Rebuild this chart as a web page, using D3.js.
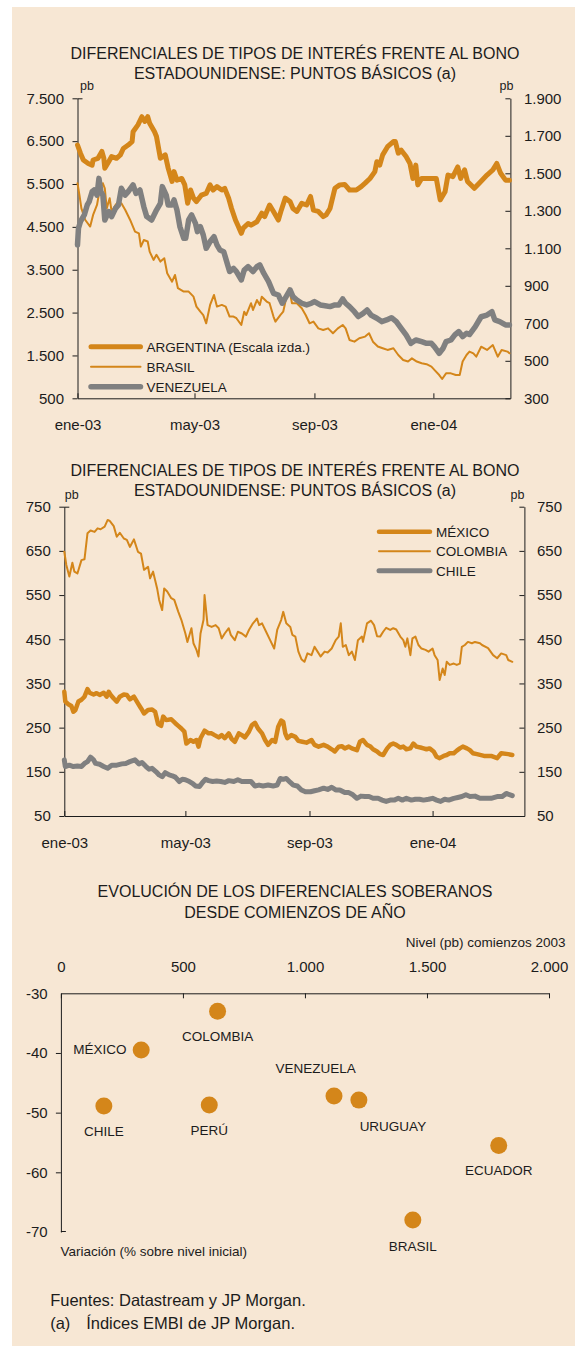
<!DOCTYPE html>
<html>
<head>
<meta charset="utf-8">
<script src="https://cdn.jsdelivr.net/npm/d3@7"></script>
<style>
  body { margin: 0; background: #fff; }
  svg { display: block; }
</style>
</head>
<body>
<svg id="chart" width="575" height="1353"></svg>
<script>
(function() {

  // ---- data: [days since 1-ene-2003, spread in pb] ----
  const xTickDates = ['2003-01-01', '2003-05-01', '2003-09-01', '2004-01-01']
  const xTickLabels = ['ene-03', 'may-03', 'sep-03', 'ene-04']

  const ticksLeft1 = [500, 1500, 2500, 3500, 4500, 5500, 6500, 7500]
  const ticksRight1 = [300, 500, 700, 900, 1100, 1300, 1500, 1700, 1900]
  const ticks2 = [50, 150, 250, 350, 450, 550, 650, 750]

  const argentina = [[0,6410],[3,6220],[6,6060],[11,5980],[15,5940],[16,6060],[21,6100],[25,6260],[27,6100],[28,5870],[32,6020],[35,6140],[40,6100],[44,6180],[47,6330],[52,6410],[56,6490],[57,6720],[62,6880],[66,7070],[69,6960],[72,7070],[74,6920],[79,6720],[81,6610],[85,6100],[90,6180],[93,5870],[97,5560],[99,5790],[102,5590],[107,5630],[110,5480],[113,5050],[116,5360],[119,5170],[122,5090],[127,5240],[132,5280],[136,5480],[139,5360],[143,5440],[148,5360],[151,5400],[155,5170],[158,4930],[162,4660],[165,4510],[168,4350],[170,4470],[175,4580],[178,4540],[184,4620],[189,4820],[192,4740],[197,5010],[201,4860],[206,4660],[209,4890],[213,5170],[218,5090],[221,4930],[225,4860],[230,5050],[235,5010],[239,5210],[242,4890],[247,4860],[252,4740],[255,4780],[259,4930],[264,5400],[269,5480],[274,5490],[279,5360],[286,5360],[291,5440],[295,5520],[300,5630],[305,5790],[307,6020],[310,5940],[313,6180],[318,6370],[324,6490],[326,6490],[329,6220],[332,6290],[337,6140],[341,5980],[344,5630],[347,5940],[349,5480],[353,5630],[358,5630],[363,5630],[368,5630],[372,5130],[377,5320],[380,5710],[385,5670],[390,5900],[393,5630],[397,5830],[400,5560],[407,5400],[412,5520],[420,5710],[426,5830],[430,5980],[434,5750],[439,5590],[443,5590]]

  const brasil = [[0,1447],[2,1384],[4,1313],[8,1251],[13,1216],[16,1278],[20,1331],[23,1420],[26,1447],[28,1420],[30,1313],[33,1367],[35,1296],[39,1331],[42,1349],[45,1340],[49,1304],[54,1251],[59,1189],[63,1180],[65,1109],[68,1144],[72,1136],[74,1082],[78,1038],[81,1065],[85,1029],[89,1047],[92,967],[97,922],[100,958],[103,887],[109,869],[114,869],[119,842],[122,789],[126,762],[129,744],[132,700],[136,798],[140,851],[143,789],[148,798],[152,789],[156,736],[160,736],[163,727],[168,691],[171,762],[173,744],[178,807],[180,771],[184,824],[187,798],[189,842],[194,816],[197,807],[201,736],[203,709],[208,744],[211,762],[214,833],[217,887],[220,807],[225,807],[230,780],[234,744],[238,700],[242,709],[247,673],[252,664],[257,673],[262,647],[267,673],[272,691],[275,673],[279,611],[284,602],[289,620],[295,629],[299,647],[303,602],[308,576],[313,567],[318,558],[324,567],[329,531],[334,504],[339,496],[343,513],[348,496],[353,487],[358,482],[363,469],[367,446],[371,424],[374,403],[378,433],[383,433],[388,424],[392,424],[395,496],[399,531],[402,549],[406,540],[409,522],[414,575],[420,558],[426,584],[431,522],[435,558],[441,549],[443,540]]

  const venezuela = [[0,1118],[1,1207],[3,1242],[7,1278],[10,1331],[12,1349],[15,1402],[17,1411],[20,1384],[22,1473],[24,1402],[26,1384],[28,1251],[32,1296],[35,1269],[39,1313],[42,1331],[45,1420],[49,1384],[52,1402],[57,1438],[60,1393],[64,1411],[68,1322],[71,1269],[76,1251],[81,1304],[85,1340],[87,1429],[91,1384],[93,1331],[97,1331],[99,1358],[102,1304],[105,1216],[109,1153],[111,1153],[114,1251],[117,1278],[121,1233],[123,1189],[126,1216],[129,1171],[132,1100],[136,1136],[140,1162],[143,1118],[146,1091],[150,1082],[153,1029],[156,976],[160,993],[163,976],[168,931],[171,984],[175,1002],[180,976],[184,1002],[187,1011],[191,967],[196,922],[201,860],[206,851],[210,807],[214,842],[218,878],[221,842],[225,824],[230,807],[235,798],[240,807],[243,816],[249,798],[254,794],[259,789],[264,798],[268,798],[272,830],[275,807],[279,789],[284,762],[288,736],[293,753],[297,771],[301,744],[307,727],[312,709],[317,718],[322,730],[327,709],[332,673],[337,638],[342,593],[347,611],[353,602],[358,593],[363,593],[366,576],[371,540],[375,567],[378,602],[383,611],[387,638],[391,656],[395,629],[399,647],[402,640],[408,682],[414,735],[420,744],[425,762],[428,718],[433,709],[439,691],[443,691]]

  const mexico = [[0,331],[1,309],[4,303],[7,299],[9,286],[11,290],[14,309],[17,313],[20,320],[23,337],[25,329],[29,325],[32,328],[35,324],[39,329],[42,320],[44,331],[46,324],[49,316],[52,309],[55,320],[59,325],[62,324],[65,314],[69,320],[73,305],[76,294],[79,282],[83,290],[87,291],[90,286],[93,258],[96,254],[98,275],[101,267],[106,269],[110,260],[113,254],[116,248],[119,241],[121,214],[125,222],[128,218],[131,222],[133,207],[135,226],[139,243],[143,237],[146,237],[149,233],[153,228],[156,233],[159,226],[163,237],[166,224],[169,218],[173,237],[176,233],[179,228],[183,241],[186,256],[189,261],[192,248],[196,237],[199,222],[202,211],[206,222],[209,218],[212,252],[215,266],[217,263],[219,237],[221,226],[225,233],[229,229],[232,220],[236,218],[240,216],[245,222],[248,211],[252,207],[257,211],[261,207],[265,201],[268,196],[272,207],[275,208],[278,203],[282,207],[285,203],[290,199],[293,218],[296,222],[300,211],[303,208],[306,201],[310,196],[313,190],[316,188],[320,203],[323,211],[326,214],[329,211],[333,205],[336,207],[339,201],[343,203],[346,214],[349,207],[353,205],[356,203],[359,201],[362,203],[366,196],[369,184],[372,181],[376,186],[379,188],[382,192],[386,192],[389,198],[392,203],[395,207],[399,203],[402,199],[405,192],[409,190],[416,186],[423,186],[429,181],[433,192],[440,190],[444,188]]

  const colombia = [[0,648],[2,618],[5,592],[8,623],[10,603],[13,599],[17,629],[20,631],[23,690],[26,696],[30,693],[33,701],[36,699],[40,705],[43,720],[45,718],[49,706],[52,682],[55,691],[59,678],[62,675],[65,659],[69,676],[73,648],[76,644],[79,607],[83,614],[85,588],[88,603],[92,565],[94,539],[97,516],[99,565],[102,558],[106,543],[109,539],[113,512],[116,494],[120,463],[122,444],[126,475],[128,441],[131,426],[133,411],[135,463],[138,494],[139,550],[142,482],[146,478],[150,482],[153,475],[156,452],[159,463],[163,475],[165,460],[169,448],[172,467],[176,463],[180,456],[183,471],[187,486],[191,497],[193,482],[196,486],[200,467],[204,448],[208,429],[211,471],[215,494],[217,512],[220,486],[224,478],[226,460],[229,456],[232,422],[235,405],[238,399],[241,418],[245,414],[248,433],[251,422],[254,411],[258,422],[261,420],[265,429],[269,448],[272,456],[274,486],[276,433],[279,437],[282,414],[285,422],[288,403],[291,448],[295,456],[296,444],[300,486],[304,492],[307,482],[310,457],[313,456],[316,467],[319,476],[323,471],[326,475],[329,472],[333,456],[336,448],[338,433],[340,452],[343,414],[345,452],[348,456],[351,437],[354,429],[358,426],[361,422],[365,429],[367,414],[370,403],[372,358],[375,384],[377,369],[379,399],[382,392],[386,395],[389,392],[392,395],[394,433],[397,437],[400,444],[404,441],[407,444],[412,441],[414,437],[420,430],[425,414],[429,407],[433,418],[438,414],[440,403],[444,399]]

  const chile = [[0,177],[1,162],[5,165],[9,162],[13,163],[17,162],[20,169],[23,173],[26,183],[29,177],[31,169],[35,167],[39,162],[43,158],[47,165],[52,165],[57,168],[61,169],[65,173],[70,177],[74,168],[77,171],[81,162],[84,156],[87,158],[91,150],[94,143],[97,139],[100,148],[104,143],[107,141],[110,138],[114,128],[117,133],[120,132],[124,128],[127,124],[130,118],[134,117],[137,126],[140,133],[143,130],[147,128],[151,129],[155,128],[159,126],[163,130],[168,128],[172,132],[176,128],[181,128],[185,128],[189,118],[193,120],[197,118],[202,120],[207,118],[211,120],[214,135],[217,133],[220,135],[224,126],[227,120],[231,118],[235,109],[239,105],[244,105],[248,107],[252,109],[257,113],[261,110],[265,115],[269,109],[273,109],[278,103],[282,103],[286,98],[290,90],[294,95],[298,94],[302,94],[306,90],[311,90],[315,86],[319,83],[323,86],[327,86],[331,90],[335,86],[339,90],[344,86],[348,88],[352,88],[356,86],[361,88],[365,90],[369,86],[373,83],[377,88],[381,86],[386,90],[390,92],[394,94],[398,98],[402,94],[407,95],[412,90],[416,90],[423,90],[429,94],[434,94],[438,101],[444,96]]

  // scatter: nivel a comienzos de 2003 (pb) y variacion (%)
  const paises = ['CHILE', 'MÉXICO', 'PERÚ', 'COLOMBIA', 'VENEZUELA', 'URUGUAY', 'BRASIL', 'ECUADOR']
  const nivel2003 = [176, 329, 608, 642, 1119, 1221, 1442, 1794]
  const variacion = [-48.9, -39.5, -48.7, -33, -47.2, -47.9, -68, -55.5]
  const nivelTicks = [0, 500, 1000, 1500, 2000]
  const variacionTicks = [-30, -40, -50, -60, -70]

  // ---- styles ----
  const FONT = '"Liberation Sans", Arial, Helvetica, sans-serif'
  const ORANGE = '#d4861a'
  const GREY = '#808080'
  const INK = '#1c1c1c'

  const es = d3.formatLocale({decimal: ',', thousands: '.', grouping: [3], currency: ['', ' €'], minus: '-'})
  const fmt = es.format(',')
  const startDate = new Date(2003, 0, 1)
  const toDate = d => d3.timeDay.offset(startDate, d)
  const parse = d3.timeParse('%Y-%m-%d')

  const svg = d3.select('#chart').attr('font-family', FONT)

  svg.append('rect')
    .attr('x', 12).attr('y', 7)
    .attr('width', 563).attr('height', 1339)
    .attr('fill', '#f7e7d4')

  function addText(x, y, str, size, anchor) {
    return svg.append('text')
      .attr('x', x).attr('y', y)
      .attr('font-size', size)
      .attr('text-anchor', anchor || 'start')
      .attr('fill', INK)
      .text(str)
  }

  function styleAxis(sel) {
    sel.attr('font-family', FONT).attr('font-size', 15)
    sel.selectAll('text').attr('fill', INK)
    sel.selectAll('line, path').attr('stroke', INK)
  }

  function drawTimeChart(c) {
    const x = d3.scaleTime().domain([startDate, c.endDate]).range([c.x0, c.x1])
    const yL = d3.scaleLinear().domain(c.leftDomain).range([c.y1, c.y0])
    const yR = d3.scaleLinear().domain(c.rightDomain).range([c.y1, c.y0])

    c.title.forEach((t, i) => addText(295, c.titleY + i * 20, t, 16, 'middle'))
    addText(c.pbLeft, c.y0 - 8, 'pb', 12.5, 'middle')
    addText(c.pbRight, c.y0 - 8, 'pb', 12.5, 'middle')

    svg.append('g')
      .attr('transform', `translate(${c.x0},0)`)
      .call(d3.axisLeft(yL).tickValues(c.leftTicks).tickFormat(fmt)
        .tickSize(5).tickSizeOuter(0).tickPadding(8.5))
      .call(styleAxis)

    svg.append('g')
      .attr('transform', `translate(${c.x1},0)`)
      .call(d3.axisRight(yR).tickValues(c.rightTicks).tickFormat(fmt)
        .tickSizeInner(-5).tickSizeOuter(0).tickPadding(c.rightPad))
      .call(styleAxis)

    svg.append('g')
      .attr('transform', `translate(0,${c.y1})`)
      .call(d3.axisBottom(x).tickValues(xTickDates.map(parse))
        .tickFormat((d, i) => xTickLabels[i])
        .tickSizeInner(-5).tickSizeOuter(0).tickPadding(21.5))
      .call(styleAxis)

    // small stroke at the top of the left axis
    svg.append('line')
      .attr('x1', c.x0).attr('x2', c.x0 + 5)
      .attr('y1', c.y0 + 0.5).attr('y2', c.y0 + 0.5)
      .attr('stroke', INK)

    c.series.forEach(s => {
      const y = s.axis === 'right' ? yR : yL
      const line = d3.line()
        .x(d => x(toDate(d[0])))
        .y(d => y(d[1]))
      svg.append('path')
        .datum(s.values)
        .attr('d', line)
        .attr('fill', 'none')
        .attr('stroke', s.color)
        .attr('stroke-width', s.width)
        .attr('stroke-linejoin', 'round')
        .attr('stroke-linecap', 'round')
    })

    c.series.forEach((s, i) => {
      const ly = c.legendY + i * c.legendGap
      svg.append('line')
        .attr('x1', c.legendX).attr('x2', c.legendX + c.legendLen)
        .attr('y1', ly).attr('y2', ly)
        .attr('stroke', s.color)
        .attr('stroke-width', s.width)
        .attr('stroke-linecap', 'round')
      addText(c.legendX + c.legendLen + 6, ly, s.name, 13.5).attr('dy', '0.36em')
    })
  }

  drawTimeChart({
    title: ['DIFERENCIALES DE TIPOS DE INTERÉS FRENTE AL BONO', 'ESTADOUNIDENSE: PUNTOS BÁSICOS (a)'],
    titleY: 58.5,
    x0: 77.5, x1: 510.4, y0: 98.3, y1: 398.3,
    endDate: toDate(444),
    leftDomain: [500, 7500], leftTicks: ticksLeft1,
    rightDomain: [300, 1900], rightTicks: ticksRight1,
    rightPad: 13.5,
    pbLeft: 87, pbRight: 506.5,
    legendX: 91, legendLen: 49.5, legendY: 346.7, legendGap: 20,
    series: [
      {name: 'ARGENTINA (Escala izda.)', values: argentina, axis: 'left', color: ORANGE, width: 5},
      {name: 'BRASIL', values: brasil, axis: 'right', color: ORANGE, width: 2},
      {name: 'VENEZUELA', values: venezuela, axis: 'right', color: GREY, width: 5.5}
    ]
  })

  drawTimeChart({
    title: ['DIFERENCIALES DE TIPOS DE INTERÉS FRENTE AL BONO', 'ESTADOUNIDENSE: PUNTOS BÁSICOS (a)'],
    titleY: 476.4,
    x0: 64.3, x1: 524.4, y0: 506.7, y1: 816,
    endDate: toDate(456),
    leftDomain: [50, 750], leftTicks: ticks2,
    rightDomain: [50, 750], rightTicks: ticks2,
    rightPad: 12.6,
    pbLeft: 71.7, pbRight: 517.4,
    legendX: 379, legendLen: 51, legendY: 531.7, legendGap: 19.5,
    series: [
      {name: 'MÉXICO', values: mexico, axis: 'left', color: ORANGE, width: 4.5},
      {name: 'COLOMBIA', values: colombia, axis: 'left', color: ORANGE, width: 2},
      {name: 'CHILE', values: chile, axis: 'left', color: GREY, width: 5}
    ]
  })

  // ---- scatter ----
  const sx = d3.scaleLinear().domain([0, 2000]).range([60.9, 549])
  const sy = d3.scaleLinear().domain([-70, -30]).range([1232, 993.3])

  addText(295, 897.4, 'EVOLUCIÓN DE LOS DIFERENCIALES SOBERANOS', 16, 'middle')
  addText(295, 918.4, 'DESDE COMIENZOS DE AÑO', 16, 'middle')
  addText(565.5, 947.3, 'Nivel (pb) comienzos 2003', 13.5, 'end')

  svg.append('g')
    .attr('transform', `translate(0,${sy(-30)})`)
    .call(d3.axisTop(sx).tickValues(nivelTicks).tickFormat(fmt)
      .tickSizeInner(-5).tickSizeOuter(0).tickPadding(21.3))
    .call(styleAxis)

  const yAxisG = svg.append('g')
    .attr('transform', `translate(${sx(0)},0)`)
    .call(d3.axisLeft(sy).tickValues(variacionTicks).tickFormat(fmt)
      .tickSize(5).tickSizeOuter(0).tickPadding(8.2))
    .call(styleAxis)
  yAxisG.selectAll('.tick line').filter(d => d === -30 || d === -70).remove()

  svg.append('line')
    .attr('x1', sx(0)).attr('x2', sx(0) + 5)
    .attr('y1', sy(-70) - 0.5).attr('y2', sy(-70) - 0.5)
    .attr('stroke', INK)

  addText(sx(0) - 0.4, 1256, 'Variación (% sobre nivel inicial)', 13.5)

  const labelPlace = [
    {anchor: 'middle', dx: 0, dy: 30},
    {anchor: 'end', dx: -14.7, dy: 4},
    {anchor: 'middle', dx: 0, dy: 30},
    {anchor: 'middle', dx: 0, dy: 30},
    {anchor: 'middle', dx: -18.4, dy: -23.2},
    {anchor: 'middle', dx: 34, dy: 30.5},
    {anchor: 'middle', dx: 0, dy: 30.5},
    {anchor: 'middle', dx: 0, dy: 30}
  ]

  svg.append('g')
    .selectAll('circle')
    .data(paises)
    .enter()
    .append('circle')
    .attr('cx', (d, i) => sx(nivel2003[i]))
    .attr('cy', (d, i) => sy(variacion[i]))
    .attr('r', 8.5)
    .attr('fill', ORANGE)

  svg.append('g')
    .selectAll('text')
    .data(paises)
    .enter()
    .append('text')
    .attr('x', (d, i) => sx(nivel2003[i]) + labelPlace[i].dx)
    .attr('y', (d, i) => sy(variacion[i]) + labelPlace[i].dy)
    .attr('text-anchor', (d, i) => labelPlace[i].anchor)
    .attr('font-size', 13.5)
    .attr('fill', INK)
    .text(d => d)

  // ---- footer ----
  addText(50.2, 1305.5, 'Fuentes: Datastream y JP Morgan.', 16.5)
  addText(50.2, 1328.5, '(a)', 16.5)
  addText(86.2, 1328.5, 'Índices EMBI de JP Morgan.', 16.5)

})()
</script>
</body>
</html>
